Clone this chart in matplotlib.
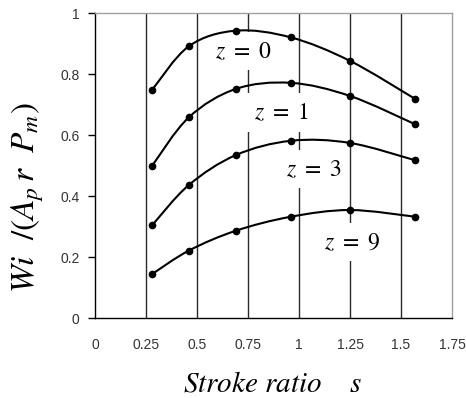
import matplotlib
matplotlib.use("Agg")
import matplotlib.pyplot as plt
from matplotlib.path import Path
from matplotlib.patches import PathPatch
import numpy as np

plt.rcParams['mathtext.fontset'] = 'stix'

# data
stroke = [0.28, 0.46, 0.69, 0.96, 1.25, 1.57]
w_z0 = [0.749, 0.892, 0.943, 0.921, 0.844, 0.719]
w_z1 = [0.500, 0.659, 0.752, 0.772, 0.729, 0.636]
w_z3 = [0.305, 0.437, 0.535, 0.582, 0.575, 0.518]
w_z9 = [0.145, 0.222, 0.287, 0.333, 0.355, 0.333]
series = [w_z0, w_z1, w_z3, w_z9]
labels = [r"$z\ =\ 0$", r"$z\ =\ 1$", r"$z\ =\ 3$", r"$z\ =\ 9$"]
label_pos = [(0.730, 0.876), (0.915, 0.675), (1.073, 0.490), (1.262, 0.249)]
xticks = [0, 0.25, 0.5, 0.75, 1, 1.25, 1.5, 1.75]
xticklabels = ["0", "0.25", "0.5", "0.75", "1", "1.25", "1.5", "1.75"]
yticks = [0, 0.2, 0.4, 0.6, 0.8, 1]
yticklabels = ["0", "0.2", "0.4", "0.6", "0.8", "1"]

fig = plt.figure(figsize=(4.66, 3.98), dpi=100)
ax = fig.add_axes([95/466, 1-318.3/398, (452-95)/466, (318.3-13.3)/398])
ax.set_xlim(0, 1.75)
ax.set_ylim(0, 1)


def smooth_path(x, y):
    x = np.asarray(x, float)
    y = np.asarray(y, float)
    n = len(x)
    verts = [(x[0], y[0])]
    codes = [Path.MOVETO]
    for i in range(n - 1):
        i0 = max(i - 1, 0)
        i3 = min(i + 2, n - 1)
        c1 = (x[i] + (x[i+1] - x[i0]) / 6, y[i] + (y[i+1] - y[i0]) / 6)
        c2 = (x[i+1] - (x[i3] - x[i]) / 6, y[i+1] - (y[i3] - y[i]) / 6)
        verts += [c1, c2, (x[i+1], y[i+1])]
        codes += [Path.CURVE4] * 3
    return Path(verts, codes)


# vertical grid lines
for xv in xticks[1:-1]:
    ax.axvline(xv, color='#2a2a2a', lw=1.0, zorder=1)

for ys in series:
    patch = PathPatch(smooth_path(stroke, ys), fill=False, lw=1.5, ec='black', zorder=4)
    ax.add_patch(patch)
    ax.plot(stroke, ys, 'o', color='black', ms=4.5, zorder=5)

for lab, (lx, ly) in zip(labels, label_pos):
    ax.text(lx, ly, lab, ha='center', va='center', fontsize=17, zorder=3,
            bbox=dict(boxstyle='square,pad=0.3', fc='white', ec='none'))

ax.set_xticks(xticks)
ax.set_xticklabels(xticklabels, family='Liberation Sans', fontsize=10, color='#333333')
ax.set_yticks(yticks)
ax.set_yticklabels(yticklabels, family='Liberation Sans', fontsize=10, color='#333333')
ax.tick_params(axis='x', length=0, pad=14)
ax.tick_params(axis='y', length=5, width=1, pad=6, direction='out')

for s in ['left', 'bottom']:
    ax.spines[s].set_color('black')
    ax.spines[s].set_linewidth(1.0)
for s in ['top', 'right']:
    ax.spines[s].set_color('#a0a0a0')
    ax.spines[s].set_linewidth(1.0)

fig.text(272/466, 1-391/398, r"$Stroke\ ratio\quad\ s$", ha='center', va='baseline', fontsize=21)
fig.text(28/466, 1-197.5/398, r"$Wi\ \ /(A_{p}\,r\ \ P_{m})$", ha='center', va='center',
         rotation=90, fontsize=24)

fig.savefig("out.png", dpi=100)
